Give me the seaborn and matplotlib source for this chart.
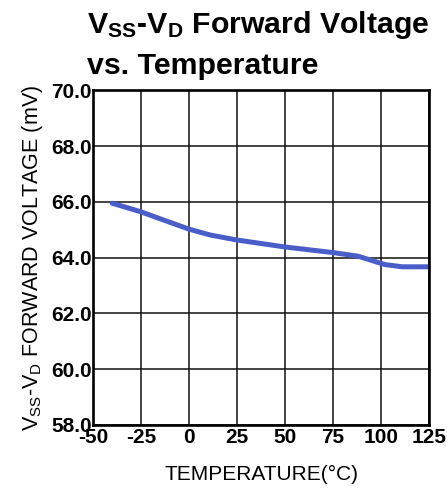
import matplotlib
matplotlib.use("Agg")
import matplotlib.pyplot as plt
import pandas as pd
import seaborn as sns

# values
temperature_c = [-40, -25, -15, 0, 11, 25, 50, 75, 88, 102, 111, 125]
forward_mv = [65.95, 65.64, 65.39, 65.02, 64.81, 64.63, 64.38, 64.18, 64.05, 63.75, 63.67, 63.67]

x_ticks = [-50, -25, 0, 25, 50, 75, 100, 125]
y_ticks = [58.0, 60.0, 62.0, 64.0, 66.0, 68.0, 70.0]

sns.set_theme(style="white")
plt.rcParams["font.family"] = ["Liberation Sans", "DejaVu Sans"]
plt.rcParams["mathtext.fontset"] = "custom"
plt.rcParams["mathtext.rm"] = "Liberation Sans"
plt.rcParams["mathtext.it"] = "Liberation Sans"
plt.rcParams["mathtext.bf"] = "Liberation Sans:bold"

df = pd.DataFrame({"temp": temperature_c, "mv": forward_mv})

fig = plt.figure(figsize=(4.47, 4.93), dpi=100)
ax = fig.add_axes([0.208, 0.138, 0.752, 0.679])

sns.lineplot(data=df, x="temp", y="mv", ax=ax, color="#4a5ec9", linewidth=3.6)

ax.set_xlim(-50, 125)
ax.set_ylim(58, 70)
ax.set_xticks(x_ticks)
ax.set_yticks(y_ticks)
ax.set_xticklabels([str(t) for t in x_ticks], fontweight="bold", fontsize=15)
ax.set_yticklabels([f"{v:.1f}" for v in y_ticks], fontweight="bold", fontsize=15)
ax.tick_params(axis="y", length=0, pad=1, colors="black")
ax.tick_params(axis="x", length=0, pad=2.5, colors="black")
ax.grid(True, color="#111111", linewidth=1.1)
for spine in ax.spines.values():
    spine.set_visible(True)
    spine.set_color("black")
    spine.set_linewidth(1.9)

ax.set_xlabel("TEMPERATURE(°C)", fontsize=15, color="black", labelpad=12.5)
ax.set_ylabel(r"V$_\mathrm{SS}$-V$_\mathrm{D}$ FORWARD VOLTAGE (mV)", fontsize=15.5,
              color="black", labelpad=4)

fig.text(0.195, 1 - 33 / 493, "$\\mathbf{V_{SS}}$-$\\mathbf{V_D}$ Forward Voltage",
         ha="left", va="baseline", fontsize=21.8, fontweight="bold", color="black")
fig.text(0.195, 1 - 74 / 493, "vs. Temperature",
         ha="left", va="baseline", fontsize=21.8, fontweight="bold", color="black")

fig.savefig("out.png", dpi=100)
